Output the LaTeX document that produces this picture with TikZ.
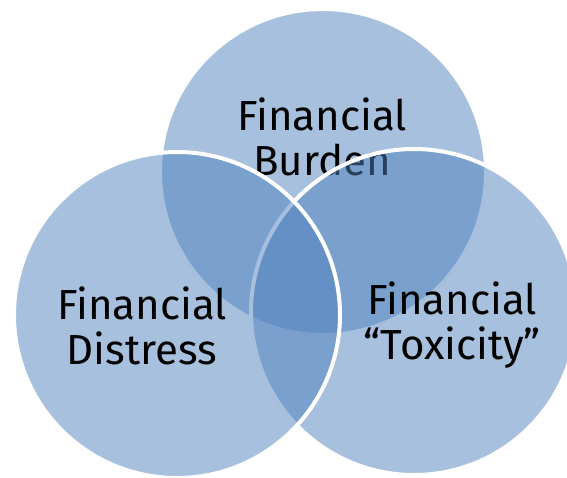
\documentclass[tikz,border=0pt]{standalone}
\usepackage{fontspec}
\setmainfont{Fira Sans}
\definecolor{vennblue}{HTML}{4F81BD}
\tikzset{
  venn/.style={circle, minimum size=326pt, inner sep=0pt, fill=vennblue, fill opacity=0.5, draw=white, draw opacity=1, line width=4pt},
  lbl/.style={align=center, inner sep=0pt, text=black, font=\fontsize{42}{45}\selectfont}
}
\begin{document}
\begin{tikzpicture}[x=1pt,y=-1pt]
\useasboundingbox (0,0) rectangle (567,477);
\clip (0,0) rectangle (567,477);
\node[venn] (burden) at (323,172) {};
\node[lbl] (burdenlbl) at (322,137) {Financial\\Burden};
\node[venn] (toxicity) at (414,312) {};
\node[venn] (distress) at (177,315) {};
\node[lbl] (distresslbl) at (142,326) {Financial\\Distress};
\node[lbl] (toxicitylbl) at (452,325) {Financial\\“Toxicity”};
\end{tikzpicture}
\end{document}
